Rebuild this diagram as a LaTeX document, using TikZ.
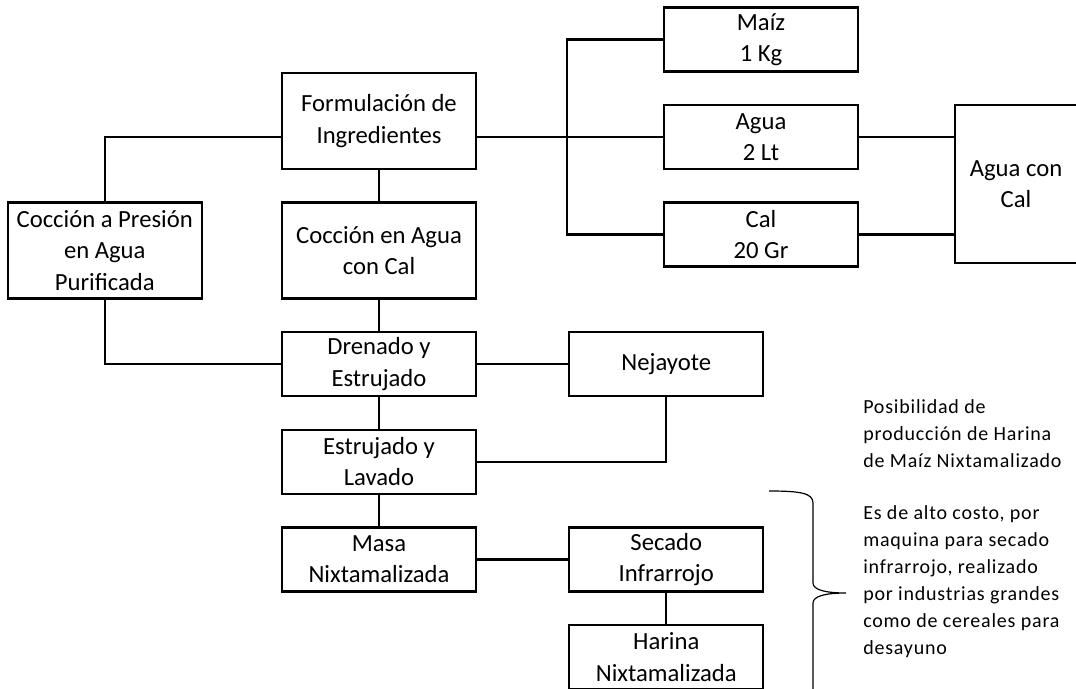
\documentclass[tikz,border=0pt]{standalone}
\usepackage{fontspec}
\setmainfont{Carlito}
\usetikzlibrary{positioning}
\newcommand\boxfont{\fontsize{18.5}{23.5}\selectfont}
\newcommand\notefont{\fontsize{15}{20.25}\selectfont\addfontfeature{LetterSpace=4}}

\begin{document}
\begin{tikzpicture}[
  x=0.75pt,y=-0.75pt,
  node distance=23.5pt and 68.25pt,
  proc/.style={draw,line width=1.7pt,minimum width=145.5pt,minimum height=48pt,align=center,font=\boxfont,inner sep=2pt},
  tallproc/.style={proc,minimum height=72pt},
  link/.style={line width=1.7pt},
  note/.style={align=left,font=\notefont,inner sep=0pt,anchor=west}
]
\useasboundingbox (0,0) rectangle (1076,689);
\node[tallproc] (form) at (379,121) {Formulación de\\Ingredientes};
\node[tallproc,below=of form] (coccion) {Cocción en Agua\\con Cal};
\node[tallproc,left=58.5pt of coccion] (presion) {Cocción a Presión\\en Agua\\Purificada};
\node[proc,below=of coccion] (drenado) {Drenado y\\Estrujado};
\node[proc,below=of drenado] (lavado) {Estrujado y\\Lavado};
\node[proc,below=of lavado] (masa) {Masa\\Nixtamalizada};
\node[proc,right=of drenado] (nejayote) {Nejayote};
\node[proc,right=of masa] (secado) {Secado\\Infrarrojo};
\node[proc,below=of secado] (harina) {Harina\\Nixtamalizada};
\node[proc] (agua) at (761,137) {Agua\\2 Lt};
\node[proc,above=of agua] (maiz) {Maíz\\1 Kg};
\node[proc,below=of agua] (cal) {Cal\\20 Gr};
\node[proc,minimum width=92pt,minimum height=118.5pt] (mezcla) at (1016,184) {Agua con\\Cal};
\coordinate (split) at (567,137);
\draw[link] (form.east |- agua.west) -- (agua.west);
\draw[link] (maiz.west) -| (split) |- (cal.west);
\draw[link] (agua.east) -- (mezcla.west |- agua.east);
\draw[link] (cal.east) -- (mezcla.west |- cal.east);
\draw[link] (form.west |- agua.west) -| (presion.north);
\draw[link] (presion.south) |- (drenado.west);
\draw[link] (form) -- (coccion);
\draw[link] (coccion) -- (drenado);
\draw[link] (drenado) -- (lavado);
\draw[link] (lavado) -- (masa);
\draw[link] (drenado) -- (nejayote);
\draw[link] (nejayote.south) |- (lavado.east);
\draw[link] (masa) -- (secado);
\draw[link] (secado) -- (harina);
\draw[line width=0.9pt] (769,491) .. controls (800,491) and (813,493) .. (813,503) -- (813,583) .. controls (813,590) and (826,593) .. (846,593) .. controls (826,593) and (813,596) .. (813,603) -- (813,692);
\node[note] (posible) at (863,434) {Posibilidad de\\producción de Harina\\de Maíz Nixtamalizado};
\node[note] (costo) at (863,582) {Es de alto costo, por\\maquina para secado\\infrarrojo, realizado\\por industrias grandes\\como de cereales para\\desayuno};
\end{tikzpicture}
\end{document}
